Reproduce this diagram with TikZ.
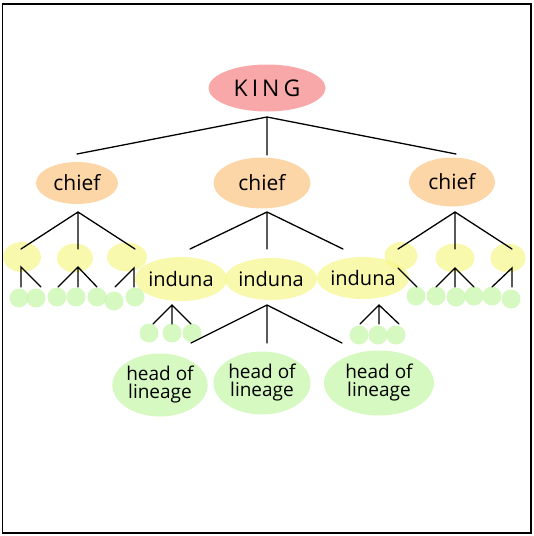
\documentclass[tikz,border=0pt]{standalone}
\usepackage{fontspec}
\setmainfont{Open Sans}
\usetikzlibrary{shapes.geometric}
\definecolor{kingc}{RGB}{248,168,168}
\definecolor{chiefc}{RGB}{253,214,168}
\definecolor{indc}{RGB}{246,246,140}
\definecolor{linc}{RGB}{196,246,166}
\begin{document}
\begin{tikzpicture}[x=1pt,y=-1pt,
  blob/.style={ellipse, inner sep=0pt},
  kingbox/.style={blob, fill=kingc, font=\fontsize{23}{23}\selectfont},
  chiefbox/.style={blob, fill=chiefc, font=\fontsize{21}{21}\selectfont},
  indbox/.style={blob, fill=indc, fill opacity=0.7, text opacity=1, font=\fontsize{20}{20}\selectfont},
  linbox/.style={blob, fill=linc, fill opacity=0.7, text opacity=1, align=center, font=\fontsize{19}{18}\selectfont},
  dot/.style={circle, inner sep=0pt, minimum size=19pt, fill=linc, fill opacity=0.7},
  edge/.style={line width=1.3pt, line cap=round}]
\useasboundingbox (0,0) rectangle (534,536);
\draw[line width=1.5pt] (2.5,4) rectangle (531,533);
% main nodes
\node[kingbox, minimum width=117pt, minimum height=47pt] (king) at (267,88) {K\hspace{4pt}I\hspace{4pt}N\hspace{4pt}G};
\node[chiefbox, minimum width=82pt, minimum height=42pt] (chiefL) at (77,183) {chief};
\node[chiefbox, minimum width=97pt, minimum height=51pt] (chiefM) at (262,183) {chief};
\node[chiefbox, minimum width=86pt, minimum height=49pt] (chiefR) at (452,182) {chief};
% small yellow blobs
\foreach \n/\x/\y/\w/\h in {yL1/22/257/38/30, yL2/75/258/36/29, yL3/127/257/40/29, yR1/401/256/33/28, yR2/455/258/39/29, yR3/508/258/35/29}
  \node[blob, fill=indc, fill opacity=0.7, minimum width=\w pt, minimum height=\h pt] (\n) at (\x,\y) {};
% induna
\node[indbox, minimum width=83pt, minimum height=44pt] (indL) at (181,279) {induna};
\node[indbox, minimum width=92pt, minimum height=42pt] (indM) at (271,279) {induna};
\node[indbox, minimum width=81pt, minimum height=42pt] (indR) at (363,278) {induna};
% small green dots
\foreach \n/\x/\y in {gL1/19/298, gL2/36/298, gL3/57/297, gL4/76/297, gL5/97/297, gL6/114/301, gL7/135/297,
  gR1/416/296, gR2/436/296, gR3/456/297, gR4/474/296, gR5/492/296, gR6/511/299,
  gI1/149/333, gI2/172/333, gI3/192/333, gJ1/359/335, gJ2/378/335, gJ3/396/335}
  \node[dot] (\n) at (\x,\y) {};
% heads of lineage
\node[linbox, minimum width=95pt, minimum height=63pt] (hL) at (160,385) {head of\\lineage};
\node[linbox, minimum width=97pt, minimum height=63pt] (hM) at (262,383) {head of\\lineage};
\node[linbox, minimum width=110pt, minimum height=65pt] (hR) at (379,383) {head of\\lineage};
% junction and end coordinates
\foreach \n/\x/\y in {jK/267/117, eK1/77/154, eK2/267/155, eK3/456/154,
  jCL/78/212, eCL1/21/249, eCL2/78/249, eCL3/135/249,
  jCM/267/212, eCM1/190/249, eCM2/267/249, eCM3/343/249,
  jCR/455/212, eCR1/398/249, eCR2/455/249, eCR3/512/249,
  jY1/21/267, eY11/21/287, eY12/41/287,
  jY2/78/267, eY21/58/287, eY22/78/287, eY23/97/287,
  jY3/134/268, eY31/134/287, eY32/115/287,
  jZ1/398/268, eZ11/417/287,
  jZ2/455/268, eZ21/436/287, eZ22/455/287, eZ23/474/287,
  jZ3/512/268, eZ31/512/287, eZ32/492/287,
  jIL/172/305, eIL1/153/324, eIL2/172/324, eIL3/191/324,
  jIM/267/305, eIM1/191/343, eIM2/267/343, eIM3/342/343,
  jIR/379/305, eIR1/360/324, eIR2/379/324, eIR3/399/324}
  \coordinate (\n) at (\x,\y);
% connectors
\draw[edge] (eK1) -- (jK) -- (eK3) (jK) -- (eK2);
\draw[edge] (eCL1) -- (jCL) -- (eCL3) (jCL) -- (eCL2);
\draw[edge] (eCM1) -- (jCM) -- (eCM3) (jCM) -- (eCM2);
\draw[edge] (eCR1) -- (jCR) -- (eCR3) (jCR) -- (eCR2);
\draw[edge] (eY11) -- (jY1) -- (eY12);
\draw[edge] (eY21) -- (jY2) -- (eY23) (jY2) -- (eY22);
\draw[edge] (eY31) -- (jY3) -- (eY32);
\draw[edge] (jZ1) -- (eZ11);
\draw[edge] (eZ21) -- (jZ2) -- (eZ23) (jZ2) -- (eZ22);
\draw[edge] (eZ31) -- (jZ3) -- (eZ32);
\draw[edge] (eIL1) -- (jIL) -- (eIL3) (jIL) -- (eIL2);
\draw[edge] (eIM1) -- (jIM) -- (eIM3) (jIM) -- (eIM2);
\draw[edge] (eIR1) -- (jIR) -- (eIR3) (jIR) -- (eIR2);
\end{tikzpicture}
\end{document}
